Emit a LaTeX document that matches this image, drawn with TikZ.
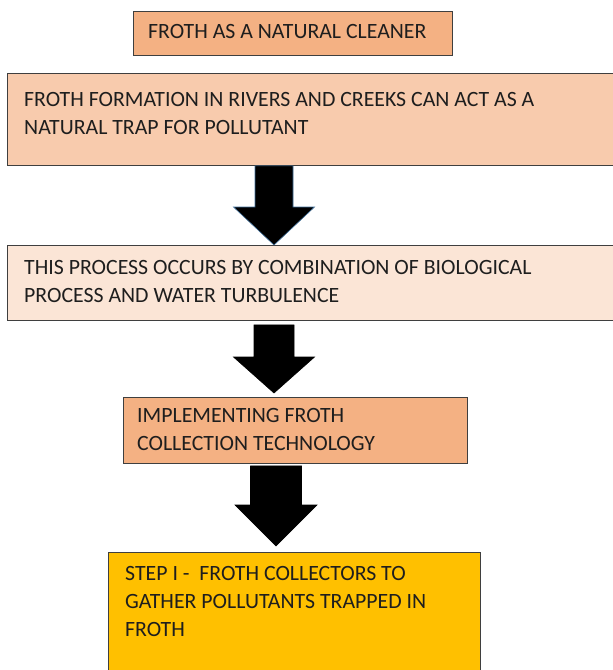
\documentclass[tikz,border=0pt]{standalone}
\usepackage{fontspec}
\setmainfont{Carlito}
\usetikzlibrary{calc}

\definecolor{frothorange}{HTML}{F4B183}
\definecolor{frothpeach}{HTML}{F8CBAD}
\definecolor{frothpale}{HTML}{FBE5D6}
\definecolor{frothgold}{HTML}{FFC000}
\definecolor{boxline}{HTML}{3F3F3F}
\definecolor{arrowline}{HTML}{41719C}
\definecolor{inktext}{HTML}{1E1E1E}

\tikzset{
  box/.style={draw=boxline, line width=0.9pt, inner sep=0pt, anchor=north west},
  boxtext/.style={anchor=north west, inner sep=0pt, align=left, text=inktext,
    font=\fontsize{21.8}{28}\selectfont},
  blockarrow/.style={fill=black, draw=black, line width=0.6pt, line join=miter}
}

% #1 style, #2 top point, #3 tip point, #4 shaft half width, #5 head half width, #6 head length
\newcommand{\downblock}[6]{%
  \path[#1] let \p1=(#2), \p2=(#3) in
    (\x1-#4,\y1) -- (\x1+#4,\y1) -- (\x1+#4,\y2+#6) -- (\x1+#5,\y2+#6)
    -- (\x2,\y2) -- (\x1-#5,\y2+#6) -- (\x1-#4,\y2+#6) -- cycle;
}

\begin{document}
\begin{tikzpicture}[x=1pt,y=-1pt]
  \useasboundingbox (0,0) rectangle (613,670);

  % Draw the boxes
  \node[box, fill=frothorange, minimum width=319pt, minimum height=44pt] (title) at (133,11) {};
  \node[box, fill=frothpeach, minimum width=612pt, minimum height=92pt] (trap) at (7,73) {};
  \node[box, fill=frothpale, minimum width=612pt, minimum height=75pt] (process) at (7,245) {};
  \node[box, fill=frothorange, minimum width=344pt, minimum height=66pt] (collect) at (123,397) {};
  \node[box, fill=frothgold, minimum width=372pt, minimum height=125pt] (stepone) at (108,552) {};

  % Write the texts
  \node[boxtext] (titletext) at ([shift={(15,13.5)}]title.north west) {FROTH AS A NATURAL CLEANER};
  \node[boxtext] (traptext) at ([shift={(17,19.5)}]trap.north west)
    {FROTH FORMATION IN RIVERS AND CREEKS CAN ACT AS A\\NATURAL TRAP FOR POLLUTANT};
  \node[boxtext] (processtext) at ([shift={(17,15)}]process.north west)
    {THIS PROCESS OCCURS BY COMBINATION OF BIOLOGICAL\\PROCESS AND WATER TURBULENCE};
  \node[boxtext] (collecttext) at ([shift={(14,11)}]collect.north west)
    {IMPLEMENTING FROTH\\COLLECTION TECHNOLOGY};
  \node[boxtext] (steponetext) at ([shift={(17,14)}]stepone.north west)
    {STEP I -\ \ FROTH COLLECTORS TO\\GATHER POLLUTANTS TRAPPED IN\\FROTH};

  % Draw the block arrows
  \coordinate (mid) at (274,0);
  \coordinate (midlow) at (276,0);
  \downblock{blockarrow, draw=arrowline}{trap.south -| mid}{process.north -| mid}{19pt}{40.5pt}{38pt}
  \downblock{blockarrow}{[yshift=-4pt]process.south -| mid}{[yshift=4pt]collect.north -| mid}{20pt}{40.5pt}{36pt}
  \downblock{blockarrow}{[yshift=-2pt]collect.south -| midlow}{[yshift=6pt]stepone.north -| midlow}{25.5pt}{41pt}{41pt}

\end{tikzpicture}
\end{document}
